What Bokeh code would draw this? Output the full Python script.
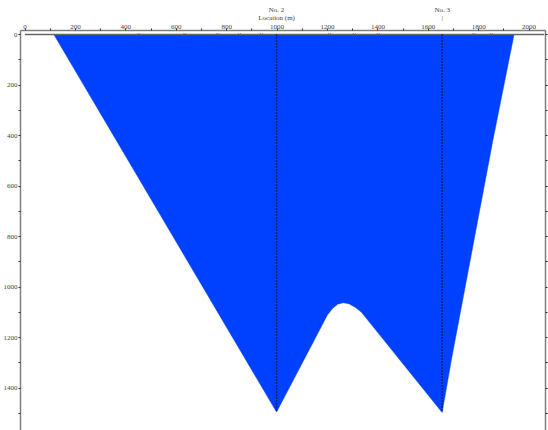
from bokeh.plotting import figure
from bokeh.models import Range1d, LinearAxis, FixedTicker
from bokeh.embed import file_html
from bokeh.resources import INLINE

# ---- data (metres) ----
# outline of the blue region, clockwise from the top-left corner
shape_x = [115, 998, 1200, 1220, 1240, 1262, 1285, 1310, 1335, 1655, 1691, 1856, 1940]
shape_depth = [1, 1495, 1110, 1085, 1068, 1062, 1066, 1080, 1100, 1497, 1291, 420, 1]

# wells
well_names = ["No. 2", "No. 3"]
well_sub = ["Location (m)", "|"]
well_x = [998, 1655]
well_bottom = [1495, 1497]

# ground line and station markers
ground_x = [0, 2060]
ground_depth = [0, 0]
station_x = [451, 634, 764, 851, 938, 1208, 1307, 1402, 1780, 1850]

x_ticks = [0, 200, 400, 600, 800, 1000, 1200, 1400, 1600, 1800, 2000]
x_minor = [100, 300, 500, 700, 900, 1100, 1300, 1500, 1700, 1900]
y_ticks = [0, 200, 400, 600, 800, 1000, 1200, 1400]
y_minor = [100, 300, 500, 700, 900, 1100, 1300, 1500]

FONT = "Liberation Serif"
TXT = "#444444"
AX = "#808080"

p = figure(width=548, height=430, output_backend="svg", toolbar_location=None,
           x_range=Range1d(-18, 2065), y_range=Range1d(1568, -16),
           x_axis_location="above", min_border_left=19, min_border_right=3,
           min_border_top=30, min_border_bottom=0)
p.outline_line_color = None
p.grid.visible = False
p.background_fill_color = "white"

p.patch(shape_x, shape_depth, fill_color="#0040FF", line_color="#0040FF", line_width=0.5)

p.line(ground_x, ground_depth, line_color="#666666", line_width=1.5)
p.scatter(station_x, [0] * len(station_x), marker="x", size=3, line_color="#555555", line_width=1)

for wx, wb in zip(well_x, well_bottom):
    p.line([wx, wx], [0, wb], line_color="black", line_width=1.5, line_dash="1 2")

xa = p.xaxis[0]
xa.ticker = FixedTicker(ticks=x_ticks, minor_ticks=x_minor)
ya = p.yaxis[0]
ya.ticker = FixedTicker(ticks=y_ticks, minor_ticks=y_minor)
for ax in (xa, ya):
    ax.axis_line_color = AX
    ax.axis_line_width = 1.5
    ax.major_tick_line_color = "#333333"
    ax.minor_tick_line_color = "#333333"
    ax.major_tick_out = 2
    ax.major_tick_in = 0
    ax.minor_tick_out = 2
    ax.minor_tick_in = 0
    ax.major_label_standoff = 1
    ax.major_label_text_font = FONT
    ax.major_label_text_font_size = "7px"
    ax.major_label_text_color = TXT
xa.major_label_standoff = 0

# well names (two-line labels) on an outer top axis
wa = LinearAxis(ticker=FixedTicker(ticks=well_x, minor_ticks=[]))
wa.major_label_overrides = {wx: nm + "\n" + sub for wx, nm, sub in zip(well_x, well_names, well_sub)}
wa.axis_line_color = None
wa.major_tick_line_color = None
wa.minor_tick_line_color = None
wa.major_tick_out = 0
wa.major_tick_in = 0
wa.minor_tick_out = 0
wa.minor_tick_in = 0
wa.major_label_standoff = 0
wa.major_label_text_font = FONT
wa.major_label_text_font_size = "7px"
wa.major_label_text_color = TXT
wa.major_label_text_line_height = 0.9
p.add_layout(wa, "above")

ra = LinearAxis(ticker=FixedTicker(ticks=y_ticks + y_minor, minor_ticks=[]))
ra.axis_line_color = AX
ra.axis_line_width = 1.5
ra.major_tick_out = 2
ra.major_tick_in = 0
ra.major_tick_line_color = "#333333"
ra.major_label_overrides = {t: "" for t in y_ticks + y_minor}
ra.major_label_standoff = 0
p.add_layout(ra, "right")

open("out.html", "w").write(file_html(p, INLINE))
